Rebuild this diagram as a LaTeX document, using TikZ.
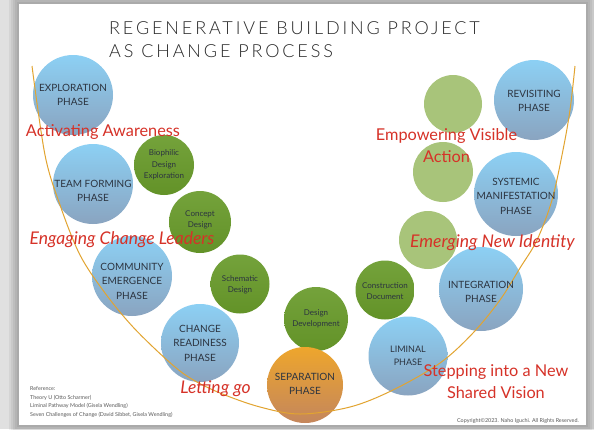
\documentclass[tikz,border=0pt]{standalone}
\usepackage{fontspec}
\setmainfont{Lato}
\IfFontExistsTF{Lato Light}{\newfontfamily\titlefont{Lato Light}[LetterSpace=16]}{\newfontfamily\titlefont{Lato}[LetterSpace=16]}
\definecolor{bluetop}{RGB}{140,208,244}
\definecolor{bluebot}{RGB}{138,164,192}
\definecolor{orgtop}{RGB}{238,166,44}
\definecolor{orgbot}{RGB}{196,134,92}
\definecolor{dkgreen}{RGB}{104,154,42}
\definecolor{ltgreen}{RGB}{168,196,122}
\definecolor{curvecol}{RGB}{226,164,48}
\definecolor{redlab}{RGB}{214,50,40}
\definecolor{txtcol}{RGB}{44,52,64}
\definecolor{titlecol}{RGB}{40,40,40}
\tikzset{
  bluecirc/.style={circle, inner sep=0pt, top color=bluetop, bottom color=bluebot, draw=none},
  orgcirc/.style={circle, inner sep=0pt, top color=orgtop, bottom color=orgbot, draw=none},
  dkcirc/.style={circle, inner sep=0pt, top color=dkgreen!92!white, bottom color=dkgreen!95!black, draw=none},
  ltcirc/.style={circle, inner sep=0pt, fill=ltgreen, draw=none},
  bigtext/.style={align=center, text=txtcol, font=\fontsize{10}{14.5}\selectfont, inner sep=0pt},
  smalltext/.style={align=center, text=txtcol, font=\fontsize{8}{11.5}\selectfont, inner sep=0pt},
  redtext/.style={text=redlab, font=\fontsize{16.3}{22}\selectfont, inner sep=0pt, align=center},
  reditext/.style={redtext, font=\fontsize{17.5}{22}\selectfont\itshape},
  ucurve/.style={draw=curvecol, line width=1pt},
  note/.style={text=black!65, font=\fontsize{5.4}{8.6}\selectfont, inner sep=0pt, align=left}
}
\begin{document}
\begin{tikzpicture}[x=1pt,y=-1pt]
\useasboundingbox (0,0) rectangle (594,429);
% background and panel shadow
\fill[black!12] (0,0) rectangle (594,429);
\foreach \i in {10,8,6,4,2} {
  \fill[black, opacity=0.05] (19-\i,4-\i) rectangle (586+\i,425+\i);
}
\fill[white] (19,4) rectangle (586,425);

% title
\node[anchor=west, inner sep=0pt, text=titlecol, font=\fontsize{18}{21}\selectfont\titlefont] (title1) at (109,28.5) {REGENERATIVE BUILDING PROJECT};
\node[anchor=west, inner sep=0pt, text=titlecol, font=\fontsize{18}{21}\selectfont\titlefont] (title2) at (109,51.5) {AS CHANGE PROCESS};

% blue phase circles
\node[bluecirc, minimum size=80pt] (expl) at (73,95) {};
\node[bluecirc, minimum size=80pt] (team) at (93,184) {};
\node[bluecirc, minimum size=80pt] (comm) at (132,276) {};
\node[bluecirc, minimum size=78pt] (ready) at (200,343) {};
\node[bluecirc, minimum size=79pt] (limi) at (408,356) {};
\node[bluecirc, minimum size=84pt] (integ) at (481,289) {};
\node[bluecirc, minimum size=84pt] (syst) at (516,194) {};
\node[bluecirc, minimum size=80pt] (revi) at (534,100) {};

% light green circles
\node[ltcirc, minimum size=58pt] (lg1) at (453,104) {};
\node[ltcirc, minimum size=60pt] (lg2) at (443,172) {};
\node[ltcirc, minimum size=58pt] (lg3) at (428,240) {};

% dark green circles
\node[dkcirc, minimum size=60pt] (bio) at (164,165) {};
\node[dkcirc, minimum size=62pt] (conc) at (200,222) {};
\node[dkcirc, minimum size=59pt] (sche) at (240,284) {};
\node[dkcirc, minimum size=64pt] (devel) at (316,319) {};
\node[dkcirc, minimum size=59pt] (cons) at (385,290) {};

% separation circle
\node[orgcirc, minimum size=76pt] (sepa) at (305,385) {};

% U curve
\draw[ucurve] plot[smooth, tension=0.55] coordinates {(32,66) (45,155) (60,205) (80,255) (105,293) (133,327) (167,360) (190,378) (220,393) (260,407) (300,414) (350,407) (393,390) (440,363) (473,333) (500,300) (520,268) (537,240) (552,200) (563,150) (570,110) (575,66)};

% circle texts
\node[bigtext] (texpl) at (expl) {EXPLORATION\\PHASE};
\node[bigtext] (tteam) at ([yshift=-7pt]team.center) {TEAM FORMING\\PHASE};
\node[bigtext] (tcomm) at ([yshift=-5pt]comm.center) {COMMUNITY\\EMERGENCE\\PHASE};
\node[bigtext] (tready) at (ready) {CHANGE\\READINESS\\PHASE};
\node[bigtext] (tsepa) at ([yshift=1pt]sepa.center) {SEPARATION\\PHASE};
\node[bigtext, font=\fontsize{9}{13}\selectfont] (tlimi) at (limi) {LIMINAL\\PHASE};
\node[bigtext] (tinteg) at ([yshift=-3pt]integ.center) {INTEGRATION\\PHASE};
\node[bigtext] (tsyst) at ([yshift=-2pt]syst.center) {SYSTEMIC\\MANIFESTATION\\PHASE};
\node[bigtext] (trevi) at ([yshift=-1pt]revi.center) {REVISITING\\PHASE};
\node[smalltext] (tbio) at (bio) {Biophilic\\Design\\Exploration};
\node[smalltext, font=\fontsize{8}{11}\selectfont] (tconc) at ([yshift=2.5pt]conc.center) {Concept\\Design};
\node[smalltext] (tsche) at ([yshift=-1pt]sche.center) {Schematic\\Design};
\node[smalltext] (tdevel) at (devel) {Design\\Development};
\node[smalltext] (tcons) at ([yshift=-1pt]cons.center) {Construction\\Document};

% red labels
\node[redtext] (l1) at (103,132) {Activating Awareness};
\node[reditext] (l2) at (122,240) {Engaging Change Leaders};
\node[reditext] (l3) at (215.5,389) {Letting go};
\node[redtext] (l4) at (446.5,146) {Empowering Visible\\Action};
\node[reditext] (l5) at (492.5,243) {Emerging New Identity};
\node[redtext] (l6) at (496,382) {Stepping into a New\\Shared Vision};

% notes
\node[note, anchor=north west] (refs) at (30,386.5) {Reference:\\Theory U (Otto Scharmer)\\Liminal Pathway Model (Gisela Wendling)\\Seven Challenges of Change (David Sibbet, Gisela Wendling)};
\node[note, anchor=east] (copy) at (579,421) {Copyright©2023. Naho Iguchi. All Rights Reserved.};
\end{tikzpicture}
\end{document}
